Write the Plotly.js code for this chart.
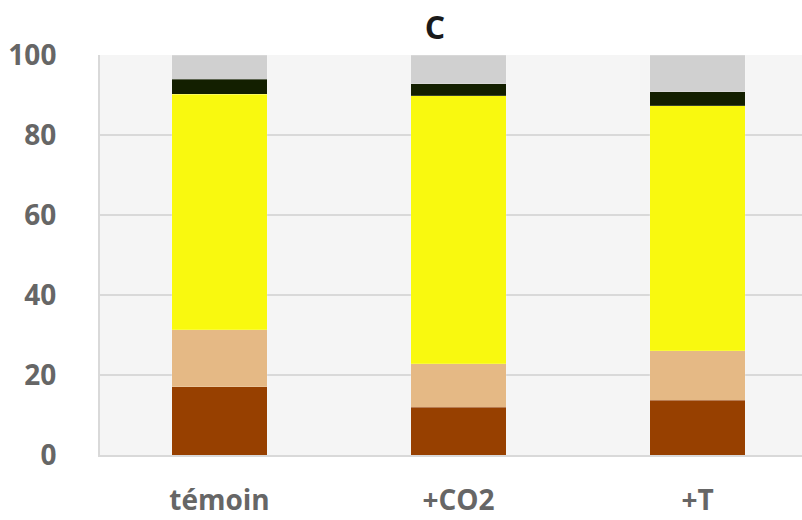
<!DOCTYPE html>
<html>
<head>
<meta charset="utf-8">
<script src="https://cdn.plot.ly/plotly-3.0.1.min.js"></script>
<style>html,body{margin:0;padding:0;background:#fff;}#chart{width:802px;height:520px;}</style>
</head>
<body>
<div id="chart"></div>
<script>
const categories = ["témoin", "+CO2", "+T"];
const brown  = [17.1, 11.9, 13.75];
const tan    = [14.2, 10.9, 12.35];
const yellow = [58.9, 67.0, 61.2];
const black  = [3.7, 3.0, 3.5];
const grey   = [6.1, 7.2, 9.2];
const yTicks = [0, 20, 40, 60, 80, 100];

const series = [
  {name: "brown", y: brown, color: "#974000"},
  {name: "tan", y: tan, color: "#e5b985"},
  {name: "yellow", y: yellow, color: "#f9f90f"},
  {name: "black", y: black, color: "#131f00"},
  {name: "grey", y: grey, color: "#d0d0d0"}
];

const data = series.map(s => ({
  type: "bar",
  x: categories,
  y: s.y,
  name: s.name,
  width: 0.4,
  marker: {color: s.color, line: {color: "rgba(255,255,255,0.35)", width: 0.5}},
  hoverinfo: "none"
}));

const layout = {
  width: 802, height: 520,
  margin: {l: 100, r: 0, t: 55, b: 65, pad: 0},
  paper_bgcolor: "#ffffff",
  plot_bgcolor: "#f5f5f5",
  barmode: "stack",
  showlegend: false,
  title: {
    text: "<b>C</b>",
    font: {family: "Open Sans", size: 32, color: "#1a1a1a"},
    xref: "paper", x: 0.477, xanchor: "center",
    yref: "container", y: 0.946, yanchor: "middle"
  },
  xaxis: {
    type: "category",
    range: [-0.5, 2.437],
    showgrid: false,
    showline: true, linecolor: "#d9d9d9", linewidth: 2,
    ticks: "",
    ticklabelstandoff: 19,
    tickfont: {family: "Open Sans", size: 28, color: "#666666", weight: "bold"},
    fixedrange: true
  },
  yaxis: {
    range: [0, 100],
    tickvals: yTicks,
    ticktext: yTicks.map(String),
    showgrid: true, gridcolor: "#d9d9d9", gridwidth: 2,
    showline: true, linecolor: "#d9d9d9", linewidth: 2,
    zeroline: false,
    ticks: "",
    ticklabelstandoff: 36,
    tickfont: {family: "Open Sans", size: 28, color: "#666666", weight: "bold"},
    fixedrange: true
  }
};

Plotly.newPlot("chart", data, layout, {displayModeBar: false, staticPlot: true});
</script>
</body>
</html>
